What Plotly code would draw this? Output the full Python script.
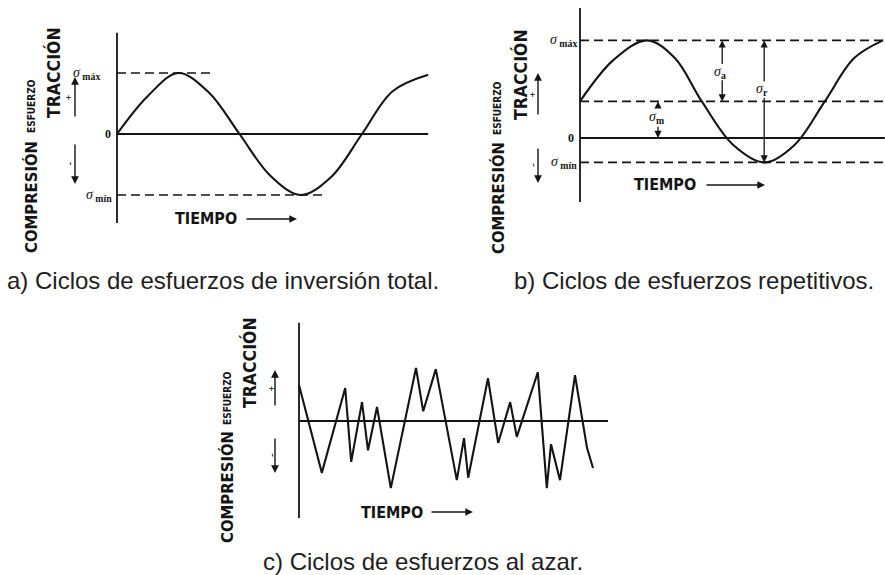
import plotly.graph_objects as go

W, H = 885, 575

# ---------------- data ----------------
# a) fully reversed cycle: time in quarter periods, stress relative to sigma_max
a_time = [0, 0.5, 1.0, 1.5, 2.0, 2.5, 3.0, 3.5, 4.0, 4.5, 5.08]
a_stress = [0, 0.62, 1.0, 0.68, 0, -0.68, -1.0, -0.7, 0, 0.7, 0.97]
a_smax, a_smin = 1.0, -1.0
a_guide_ends = [1.52, 3.36]          # time where the sigma_max / sigma_min guides stop
a_time_end = 5.08
a_axis_span = [1.66, -1.46]

# b) repeated cycle with mean stress
b_time = [0, 0.56, 1.12, 1.58, 2.03, 2.55, 3.08, 3.58, 4.08, 4.57, 5.05]
b_stress = [0.6, 1.28, 1.6, 1.31, 0.6, -0.11, -0.4, -0.11, 0.6, 1.31, 1.6]
b_smax, b_smean, b_smin = 1.6, 0.6, -0.4
b_time_end = 5.08
b_axis_span = [2.13, -1.05]
b_sa_time, b_sr_time, b_sm_time = 2.37, 3.07, 1.3

# c) random cycle
c_time = [0, 0.38, 0.77, 0.87, 1.05, 1.15, 1.30, 1.53, 1.95, 2.07, 2.28, 2.63, 2.75,
          2.82, 3.15, 3.32, 3.52, 3.63, 3.98, 4.13, 4.20, 4.35, 4.60, 4.80, 4.90]
c_stress = [0.59, -0.85, 0.54, -0.67, 0.31, -0.48, 0.23, -1.10, 0.87, 0.16, 0.85, -0.97,
            -0.28, -0.93, 0.70, -0.36, 0.31, -0.26, 0.80, -1.10, -0.38, -0.97, 0.75,
            -0.44, -0.77]
c_time_end = 5.15
c_axis_span = [1.61, -1.59]

# ---------------- layout helpers ----------------
INK = "#141414"
BOLD = "Liberation Sans Narrow, Arial Narrow, DejaVu Sans Condensed, sans-serif"
SERIF = "Liberation Serif, DejaVu Serif, serif"
CAPTION = "Liberation Sans, Arial, sans-serif"

# panel boxes in pixels (left, right, top, bottom), origin pixel, pixels per unit
panels = {
    "a": dict(n="", box=(0, 440, 0, 250), origin=(117, 134), scale=(61.25, 61)),
    "b": dict(n="2", box=(445, 885, 0, 250), origin=(580, 138), scale=(60, 61)),
    "c": dict(n="3", box=(200, 620, 300, 575), origin=(299, 421), scale=(60, 61)),
}


def P(x, y):
    return x / W, 1 - y / H


fig = go.Figure()
layout_axes = {}
for key, p in panels.items():
    l, r, t, b = p["box"]
    ox, oy = p["origin"]
    kx, ky = p["scale"]
    layout_axes["xaxis" + p["n"]] = dict(domain=[l / W, r / W], range=[(l - ox) / kx, (r - ox) / kx],
                                         visible=False, fixedrange=True, anchor="y" + p["n"])
    layout_axes["yaxis" + p["n"]] = dict(domain=[1 - b / H, 1 - t / H], range=[(oy - b) / ky, (oy - t) / ky],
                                         visible=False, fixedrange=True, anchor="x" + p["n"])


def line(key, xs, ys, width=1.8, dash=None, shape="linear"):
    n = panels[key]["n"]
    fig.add_trace(go.Scatter(x=xs, y=ys, mode="lines", xaxis="x" + n, yaxis="y" + n,
                             line=dict(color=INK, width=width, dash=dash, shape=shape),
                             hoverinfo="skip", showlegend=False))


DASH = "9px,5px"
annotations = []


def text(x, y, s, size=16, angle=0, family=BOLD, xanchor="center", color=INK):
    xp, yp = P(x, y)
    annotations.append(dict(x=xp, y=yp, xref="paper", yref="paper", text=s, showarrow=False,
                            textangle=angle, xanchor=xanchor, yanchor="middle",
                            font=dict(family=family, size=size, color=color)))


def level_text(key, x, level, s, size=14):
    n = panels[key]["n"]
    annotations.append(dict(x=x / W, y=level, xref="paper", yref="y" + n, text=s, showarrow=False,
                            xanchor="right", yanchor="middle",
                            font=dict(family=SERIF, size=size, color=INK)))


def px_arrow(x, y, dx, dy):
    xp, yp = P(x, y)
    annotations.append(dict(x=xp, y=yp, xref="paper", yref="paper", ax=dx, ay=dy, text="",
                            showarrow=True, arrowhead=2, arrowsize=1.1, arrowwidth=1.4,
                            arrowcolor=INK))


def data_arrow(key, t, s_head, s_tail):
    n = panels[key]["n"]
    annotations.append(dict(x=t, y=s_head, ax=t, ay=s_tail, xref="x" + n, yref="y" + n,
                            axref="x" + n, ayref="y" + n, text="", showarrow=True,
                            arrowhead=2, arrowsize=1.1, arrowwidth=1.3, arrowcolor=INK))


def side_labels(x_left, x_right, y_esf, y_tra, y_com, plus, minus):
    text(x_left, y_esf, "<b>ESFUERZO</b>", size=10, angle=-90)
    text(x_right, y_tra, "<b>TRACCIÓN</b>", size=17.5, angle=-90)
    text(x_left, y_com, "<b>COMPRESIÓN</b>", size=16.5, angle=-90)
    # sign arrows
    (px_, pt, py0, py1) = plus
    px_arrow(px_, py1, 0, py0 - py1)
    text(pt, (py0 + py1) / 2, "<b>+</b>", size=10, angle=-90, family=SERIF)
    (mx_, mt, my0, my1) = minus
    px_arrow(mx_, my1, 0, my0 - my1)
    text(mt, (my0 + my1) / 2, "<b>-</b>", size=11, angle=-90, family=SERIF)


def tiempo(xc, y, x0, x1):
    text(xc, y, "<b>TIEMPO</b>", size=16)
    px_arrow(x1, y, x0 - x1, 0)


SMAX = "<i>σ</i><sub><b> máx</b></sub>"
SMIN = "<i>σ</i><sub><b> mín</b></sub>"

# ---------------- a) ----------------
line("a", [0, 0], a_axis_span, width=1.8)
line("a", [0, a_time_end], [0, 0], width=1.8)
line("a", [0, a_guide_ends[0]], [a_smax, a_smax], width=1.7, dash=DASH)
line("a", [0, a_guide_ends[1]], [a_smin, a_smin], width=1.7, dash=DASH)
line("a", a_time, a_stress, width=2.1, shape="spline")
level_text("a", 102, a_smax, SMAX)
level_text("a", 114, a_smin, SMIN)
level_text("a", 113, 0, "<b>0</b>", size=12)
side_labels(31, 54, 106, 73, 197, (75, 68, 118, 77), (75, 68, 143, 184))
tiempo(206, 219, 245, 297)
text(223, 280, "a) Ciclos de esfuerzos de inversión total.", size=24, family=CAPTION, color="#1e1e1e")

# ---------------- b) ----------------
line("b", [0, 0], b_axis_span, width=1.8)
line("b", [0, b_time_end], [0, 0], width=1.8)
for lv in (b_smax, b_smean, b_smin):
    line("b", [0, b_time_end], [lv, lv], width=1.7, dash=DASH)
line("b", b_time, b_stress, width=2.1, shape="spline")
level_text("b", 579, b_smax, SMAX)
level_text("b", 579, b_smin, SMIN)
level_text("b", 576, 0, "<b>0</b>", size=12)
# amplitude, range and mean markers
data_arrow("b", b_sa_time, b_smax, 1.19)
data_arrow("b", b_sa_time, b_smean, 0.97)
text(720, 72, "<i>σ</i><sub><b>a</b></sub>", size=14, family=SERIF)
data_arrow("b", b_sr_time, b_smax, 0.9)
data_arrow("b", b_sr_time, b_smin, 0.68)
text(762, 90, "<i>σ</i><sub><b>r</b></sub>", size=14, family=SERIF)
data_arrow("b", b_sm_time, b_smean, 0.47)
data_arrow("b", b_sm_time, 0, 0.21)
text(656, 117, "<i>σ</i><sub><b>m</b></sub>", size=14, family=SERIF)
side_labels(498, 520, 108, 75, 198, (538, 532, 116, 73), (538, 532, 147, 183))
tiempo(665, 185, 705, 765)
text(694, 280, "b) Ciclos de esfuerzos repetitivos.", size=24, family=CAPTION, color="#1e1e1e")

# ---------------- c) ----------------
line("c", [0, 0], c_axis_span, width=1.8)
line("c", [0, c_time_end], [0, 0], width=1.8)
line("c", c_time, c_stress, width=2.1)
side_labels(227, 249, 398, 363, 487, (275, 271, 407, 370), (275, 271, 437, 473))
tiempo(392, 512, 430, 473)
text(423, 561, "c) Ciclos de esfuerzos al azar.", size=24, family=CAPTION, color="#1e1e1e")

fig.update_layout(width=W, height=H, margin=dict(l=0, r=0, t=0, b=0),
                  paper_bgcolor="white", plot_bgcolor="white", showlegend=False,
                  annotations=annotations, **layout_axes)
fig.write_html("out.html")
